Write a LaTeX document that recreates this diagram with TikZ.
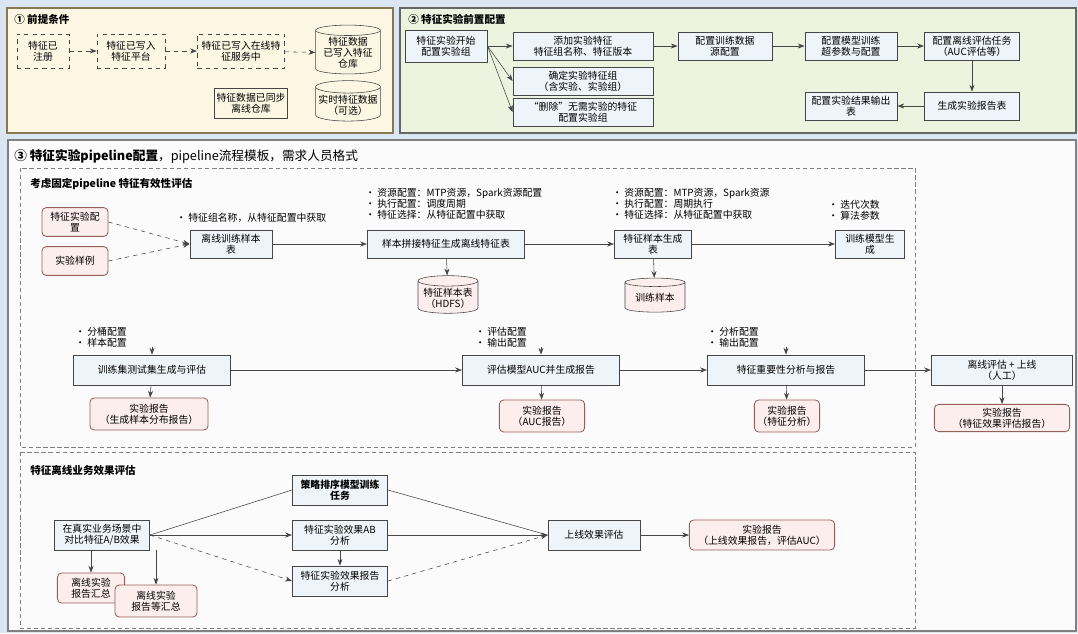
\documentclass[tikz,border=0pt]{standalone}
\usepackage{fontspec}
\setmainfont{Noto Sans CJK SC}
\usetikzlibrary{arrows.meta,shapes.geometric}
\definecolor{bgblue}{RGB}{220,230,242}
\definecolor{preyel}{RGB}{252,246,226}
\definecolor{preedge}{RGB}{135,120,85}
\definecolor{cfggrn}{RGB}{236,244,224}
\definecolor{boxfill}{RGB}{239,244,250}
\definecolor{repfill}{RGB}{251,238,236}
\definecolor{repedge}{RGB}{150,95,90}
\definecolor{lineg}{RGB}{70,70,70}

\begin{document}
\begin{tikzpicture}[x=0.025cm,y=-0.025cm,font=\fontsize{7}{8}\selectfont,>=Stealth,
  box/.style={draw=lineg,semithick,fill=boxfill,align=center,inner sep=1pt},
  prebox/.style={box,dashed,fill=preyel},
  rep/.style={box,draw=repedge,fill=repfill,rounded corners=3pt},
  db/.style={cylinder,shape border rotate=90,aspect=0.2,draw=lineg,fill=repfill,
    align=center,inner sep=1pt,minimum width=1.5cm,minimum height=0.85cm},
  note/.style={anchor=west,align=left,inner sep=0pt},
  ttl/.style={anchor=west,inner sep=0pt,font=\fontsize{7.5}{9}\selectfont\bfseries},
  zone/.style={draw=gray,densely dashed},
  link/.style={->,lineg}]
  \useasboundingbox (0,0) rectangle (1078,633);
  \fill[bgblue] (0,0) rectangle (1078,633);
  \draw[preedge,line width=1pt,fill=preyel] (7,8) rectangle (393,133);
  \draw[gray!80!black,line width=1pt,fill=cfggrn] (400,8) rectangle (1076,133);
  \draw[gray,line width=1pt,fill=white!97!gray] (8,140) rectangle (1076,631);
  \draw[zone] (20,168) rectangle (915,447);
  \draw[zone] (20,452) rectangle (915,628);

  \node[ttl] (t1) at (14,19) {① 前提条件};
  \node[prebox,minimum width=1.3cm,minimum height=0.85cm] (b1) at (43,51) {特征已\\注册};
  \node[prebox,minimum width=1.7cm,minimum height=0.85cm] (b2) at (131,51) {特征已写入\\特征平台};
  \node[prebox,minimum width=2.18cm,minimum height=0.85cm] (b3) at (241,51) {特征已写入在线特\\征服务中};
  \node[db,fill=preyel,minimum width=1.62cm,minimum height=1.0cm] (b4) at (348,53) {特征数据\\已写入特征\\仓库};
  \node[box,fill=preyel,minimum width=1.83cm,minimum height=0.75cm] (b5) at (251,103) {特征数据已同步\\离线仓库};
  \node[db,fill=preyel,minimum width=1.62cm] (b6) at (348,105) {实时特征数据\\（可选）};
  \draw[link,dashed] (b1) -- (b2);
  \draw[link,dashed] (b2) -- (b3);
  \draw[link,dashed] (b3) -- (b4);

  \node[ttl] (t2) at (408,19) {② 特征实验前置配置};
  \node[box,minimum width=2.05cm,minimum height=0.8cm] (c1) at (446,46) {特征实验开始\\配置实验组};
  \node[box,minimum width=3.5cm,minimum height=0.7cm] (c2) at (583,46) {添加实验特征\\特征组名称、特征版本};
  \node[box,minimum width=3.5cm,minimum height=0.7cm] (c3) at (583,81) {确定实验特征组\\（含实验、实验组）};
  \node[box,minimum width=3.5cm,minimum height=0.7cm] (c4) at (583,112) {“删除”无需实验的特征\\配置实验组};
  \node[box,minimum width=2.35cm,minimum height=0.7cm] (c5) at (725,46) {配置训练数据\\源配置};
  \node[box,minimum width=2.3cm,minimum height=0.7cm] (c6) at (851,46) {配置模型训练\\超参数与配置};
  \node[box,minimum width=2.38cm,minimum height=0.7cm] (c7) at (972,46) {配置离线评估任务\\（AUC评估等）};
  \node[box,minimum width=2.3cm,minimum height=0.7cm] (c8) at (851,106) {配置实验结果输出\\表};
  \node[box,minimum width=2.38cm,minimum height=0.7cm] (c9) at (972,106) {生成实验报告表};
  \foreach \n in {c2,c3,c4}
    \draw[link] (c1.east) -- (\n.west);
  \draw[link] (c2) -- (c5);
  \draw[link] (c5) -- (c6);
  \draw[link] (c6) -- (c7);
  \draw[link] (c7) -- (c9);
  \draw[link] (c9) -- (c8);

  \node[anchor=west,inner sep=0pt,font=\fontsize{9}{10}\selectfont] (t3) at (14,156)
    {\textbf{③ 特征实验pipeline配置}，pipeline流程模板，需求人员格式};
  \node[ttl] (ta) at (30,184) {考虑固定pipeline 特征有效性评估};
  \node[rep,minimum width=1.65cm,minimum height=0.72cm] (d1) at (75,222) {特征实验配\\置};
  \node[rep,minimum width=1.65cm,minimum height=0.72cm] (d2) at (75,261) {实验样例};
  \node[box,minimum width=2.05cm,minimum height=0.7cm] (e1) at (231,244) {离线训练样本\\表};
  \node[box,minimum width=3.93cm,minimum height=0.7cm] (e2) at (446,244) {样本拼接特征生成离线特征表};
  \node[box,minimum width=1.93cm,minimum height=0.7cm] (e3) at (653,244) {特征样本生成\\表};
  \node[box,minimum width=1.73cm,minimum height=0.7cm] (e4) at (870,244) {训练模型生\\成};
  \node[db] (s1) at (448,298) {特征样本表\\（HDFS）};
  \node[db] (s2) at (655,298) {训练样本};
  \node[note] (n1) at (176,218) {• 特征组名称，从特征配置中获取};
  \node[note] (n2) at (365,204) {• 资源配置：MTP资源，Spark资源配置\\• 执行配置：调度周期\\• 特征选择：从特征配置中获取};
  \node[note] (n3) at (612,204) {• 资源配置：MTP资源，Spark资源\\• 执行配置：周期执行\\• 特征选择：从特征配置中获取};
  \node[note] (n4) at (828,210) {• 迭代次数\\• 算法参数};
  \draw[link,dashed] (d1.east) -- (e1.west);
  \draw[link,dashed] (d2.east) -- (e1.west);
  \draw[link] (e1) -- (e2);
  \draw[link] (e2) -- (e3);
  \draw[link] (e3) -- (e4);
  \draw[link] (e2) -- (s1);
  \draw[link] (e3) -- (s2);

  \node[box,minimum width=3.93cm,minimum height=0.75cm] (f1) at (152,370) {训练集测试集生成与评估};
  \node[box,minimum width=3.93cm,minimum height=0.75cm] (f2) at (541,370) {评估模型AUC并生成报告};
  \node[box,minimum width=3.93cm,minimum height=0.75cm] (f3) at (786,370) {特征重要性分析与报告};
  \node[box,minimum width=3.53cm,minimum height=0.75cm] (f4) at (1002,370) {离线评估 + 上线\\（人工）};
  \node[rep,minimum width=2.95cm,minimum height=0.8cm] (g1) at (149,414) {实验报告\\（生成样本分布报告）};
  \node[rep,minimum width=2.13cm,minimum height=0.8cm] (g2) at (542,416) {实验报告\\（AUC报告）};
  \node[rep,minimum width=1.63cm,minimum height=0.8cm] (g3) at (787,416) {实验报告\\（特征分析）};
  \node[rep,minimum width=3.38cm,minimum height=0.68cm] (g4) at (1002,418) {实验报告\\（特征效果评估报告）};
  \node[note] (m1) at (75,337) {• 分桶配置\\• 样本配置};
  \node[note] (m2) at (475,337) {• 评估配置\\• 输出配置};
  \node[note] (m3) at (707,337) {• 分析配置\\• 输出配置};
  \draw[link] (f1.north |- m1.south) -- (f1.north);
  \draw[link] (f2.north |- m2.south) -- (f2.north);
  \draw[link] (f3.north |- m3.south) -- (f3.north);
  \draw[link] (f1) -- (f2);
  \draw[link] (f2) -- (f3);
  \draw[link] (f3) -- (f4);
  \foreach \a/\b in {f1/g1,f2/g2,f3/g3,f4/g4}
    \draw[link] (\a) -- (\b);

  \node[ttl] (tb) at (30,470) {特征离线业务效果评估};
  \node[box,minimum width=2.38cm,minimum height=0.75cm] (h1) at (102,535) {在真实业务场景中\\对比特征A/B效果};
  \node[box,minimum width=2.38cm,minimum height=0.75cm,font=\fontsize{7}{8}\selectfont\bfseries] (h2) at (340,490) {策略排序模型训练\\任务};
  \node[box,minimum width=2.38cm,minimum height=0.75cm] (h3) at (340,535) {特征实验效果AB\\分析};
  \node[box,minimum width=2.38cm,minimum height=0.75cm] (h4) at (340,581) {特征实验效果报告\\分析};
  \node[box,minimum width=2.3cm,minimum height=0.75cm] (h5) at (594,535) {上线效果评估};
  \node[rep,minimum width=3.63cm,minimum height=0.75cm] (h6) at (762,535) {实验报告\\（上线效果报告，评估AUC）};
  \node[rep,minimum width=1.68cm,minimum height=0.75cm] (r1) at (91,588) {离线实验\\报告汇总};
  \node[rep,minimum width=2.05cm,minimum height=0.8cm] (r2) at (156,601) {离线实验\\报告等汇总};
  \draw[lineg] (h1.east) -- (h2.west);
  \draw[link] (h1.east) -- (h3.west);
  \draw[link,dashed] (h1.east) -- (h4.west);
  \draw[lineg] (h2.east) -- (h5.west);
  \draw[link] (h3.east) -- (h5.west);
  \draw[link,dashed] (h4.east) -- (h5.west);
  \draw[link] (h3) -- (h4);
  \draw[link] (h5) -- (h6);
  \draw[link] (h1.south -| r1.north) -- (r1.north);
  \draw[link] (h1.south -| r2.north) -- (r2.north);
\end{tikzpicture}
\end{document}
